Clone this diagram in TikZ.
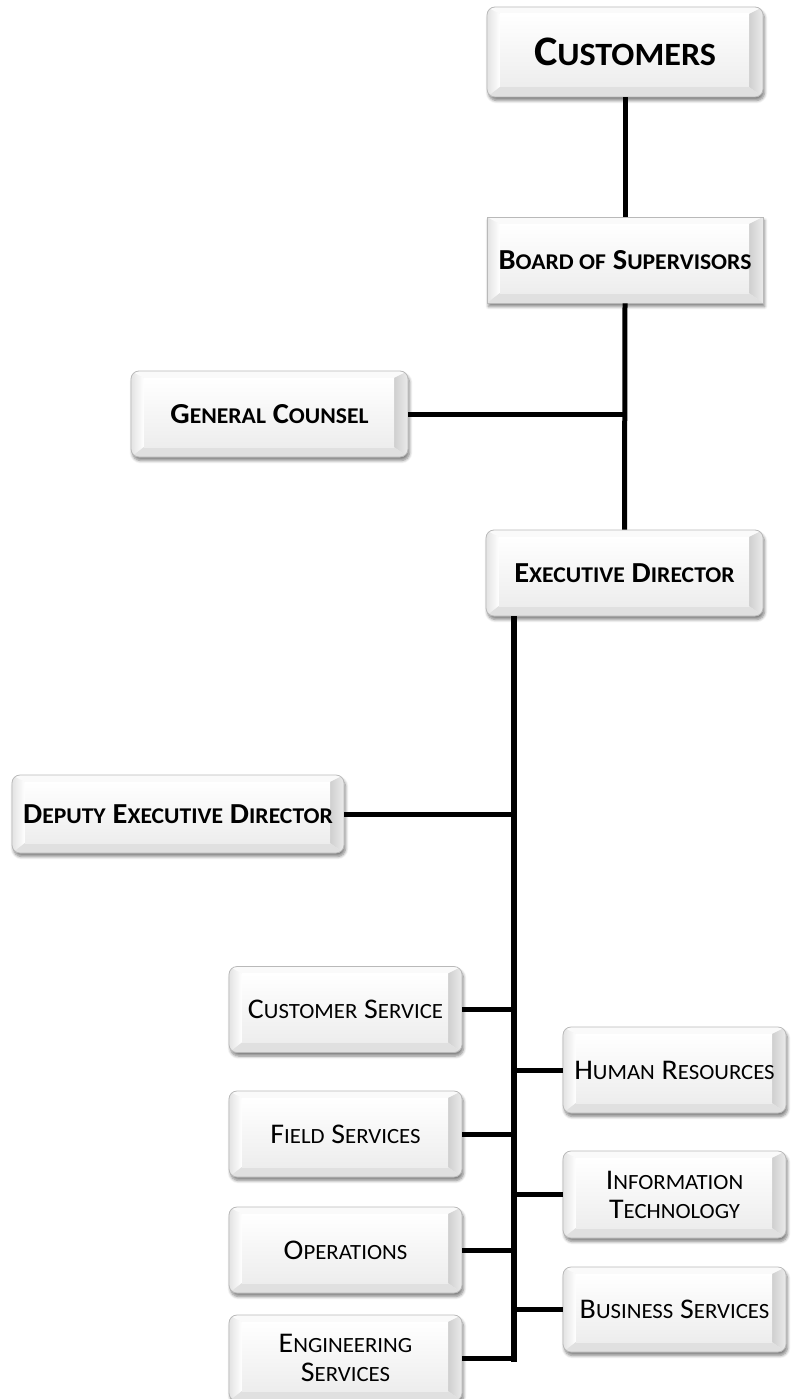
\documentclass[tikz,border=0pt]{standalone}
\usepackage{fontspec}
\setmainfont{Carlito}[FakeStretch=1.05]
\usetikzlibrary{shadows.blur}
\newcommand\smsz{20}
\newcommand\smc[1]{{\fontsize{\smsz}{\smsz}\selectfont #1}}
\tikzset{
  bevel/.style={path picture={
    \path (path picture bounding box.south west) coordinate (bsw)
          (path picture bounding box.north east) coordinate (bne);
    \path (bsw |- bne) coordinate (bnw) (bne |- bsw) coordinate (bse)
          ([shift={(13pt,10pt)}]bsw) coordinate (isw)
          ([shift={(-14pt,-7pt)}]bne) coordinate (ine);
    \path (isw |- ine) coordinate (inw) (ine |- isw) coordinate (ise);
    \fill[sharp corners, left color=gray!22, right color=white] (bsw) -- (bnw) -- (inw) -- (isw) -- cycle;
    \fill[sharp corners, gray!4] (bnw) -- (bne) -- (ine) -- (inw) -- cycle;
    \shade[sharp corners, left color=gray!38, right color=gray!16] (bse) -- (bne) -- (ine) -- (ise) -- cycle;
    \fill[sharp corners, gray!24] (bsw) -- (bse) -- (ise) -- (isw) -- cycle;
    \shade[sharp corners, top color=white, bottom color=gray!14] (isw) rectangle (ine);
  }},
  box/.style={rounded corners=8pt, draw=gray!55, line width=0.8pt, fill=gray!10,
    blur shadow={shadow xshift=1.5pt, shadow yshift=-3.5pt, shadow blur steps=6, shadow blur radius=3pt, shadow opacity=50},
    bevel, inner sep=0pt, align=center, text=black},
  sqbox/.style={box, sharp corners},
  hd/.style={font=\fontsize{29}{32}\selectfont\bfseries\renewcommand\smsz{22.5}},
  big/.style={font=\fontsize{42}{46}\selectfont\bfseries\renewcommand\smsz{32.5}},
  rg/.style={font=\fontsize{28.5}{29}\selectfont\renewcommand\smsz{21.7}},
  leftbox/.style={box, rg, minimum width=233pt, minimum height=86pt},
  rightbox/.style={box, rg, minimum width=223pt, minimum height=86pt},
  link/.style={line width=5pt, black},
  trunk/.style={line width=6pt, black}
}
\begin{document}
\begin{tikzpicture}[x=1pt, y=-1pt]
\useasboundingbox (0,0) rectangle (790,1399);
% top chain
\node[box, big, minimum width=276pt, minimum height=90pt] (cust) at (625,52) {C\smc{USTOMERS}};
\node[sqbox, hd, minimum width=276pt, minimum height=86pt] (board) at (625,260) {B\smc{OARD OF} S\smc{UPERVISORS}};
\node[box, hd, minimum width=277pt, minimum height=86pt] (gc) at (269.5,414) {G\smc{ENERAL} C\smc{OUNSEL}};
\node[box, hd, minimum width=277pt, minimum height=86pt] (exec) at (624.5,573) {E\smc{XECUTIVE} D\smc{IRECTOR}};
\node[box, hd, minimum width=332pt, minimum height=78pt] (deputy) at (178,814) {D\smc{EPUTY} E\smc{XECUTIVE} D\smc{IRECTOR}};
% left column
\node[leftbox] (custserv) at (345.5,1009.5) {C\smc{USTOMER} S\smc{ERVICE}};
\node[leftbox] (field) at (345.5,1134) {F\smc{IELD} S\smc{ERVICES}};
\node[leftbox] (ops) at (345.5,1250) {O\smc{PERATIONS}};
\node[leftbox] (eng) at (345.5,1358) {E\smc{NGINEERING}\\S\smc{ERVICES}};
% right column
\node[rightbox] (hr) at (674.5,1070) {H\smc{UMAN} R\smc{ESOURCES}};
\node[rightbox, minimum height=87pt] (it) at (674.5,1194.5) {I\smc{NFORMATION}\\T\smc{ECHNOLOGY}};
\node[rightbox, minimum height=85pt] (bus) at (674.5,1309.5) {B\smc{USINESS} S\smc{ERVICES}};
% connectors
\coordinate (trunkend) at (514,1362);
\draw[link] (cust.south) -- (board.north);
\draw[link] (board.south) -- (exec.north);
\draw[link] (gc.east) -- (gc.east -| board.south);
\draw[trunk] (exec.south -| trunkend) -- (trunkend);
\draw[link] (deputy.east) -- (deputy.east -| trunkend);
\draw[link] (custserv.east) -- (custserv.east -| trunkend);
\draw[link] (field.east) -- (field.east -| trunkend);
\draw[link] (ops.east) -- (ops.east -| trunkend);
\draw[link] (eng.east) -- (eng.east -| trunkend);
\draw[link] (hr.west) -- (hr.west -| trunkend);
\draw[link] (it.west) -- (it.west -| trunkend);
\draw[link] (bus.west) -- (bus.west -| trunkend);
\end{tikzpicture}
\end{document}
